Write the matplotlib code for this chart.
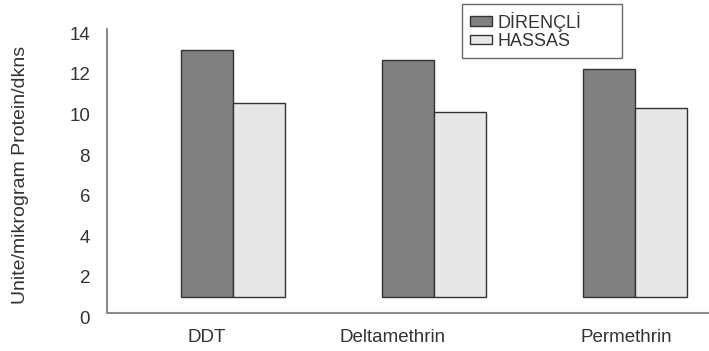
import matplotlib
matplotlib.use("Agg")
import matplotlib.pyplot as plt
import matplotlib.transforms as mtransforms
import numpy as np

plt.rcParams['font.family'] = ['Liberation Sans', 'DejaVu Sans']

categories = ["DDT", "Deltamethrin", "Permethrin"]
direncli = [13.0, 12.5, 12.06]
hassas = [10.36, 9.94, 10.1]
series_names = ["DİRENÇLİ", "HASSAS"]
yticks = [0, 2, 4, 6, 8, 10, 12, 14]
ylabel = "Unite/mikrogram Protein/dkns"

BAR_BASE = 0.82
BAR_W = 0.258
LABEL_SHIFT = [-0.128, -0.204, -0.046]

TEXT = "#333333"
fig = plt.figure(figsize=(7.09, 3.51), dpi=100)
ax = fig.add_axes([106.7/709, 1 - 313.3/351, 1 - 106.7/709, (313.3 - 29.3)/351])

x = np.arange(len(categories))
ax.bar(x - BAR_W, np.array(direncli) - BAR_BASE, width=BAR_W, bottom=BAR_BASE, align='edge',
       color="#808083", edgecolor="#333333", linewidth=1.0, label=series_names[0])
ax.bar(x, np.array(hassas) - BAR_BASE, width=BAR_W, bottom=BAR_BASE, align='edge',
       color="#e6e7e8", edgecolor="#333333", linewidth=1.0, label=series_names[1])

ax.set_xlim(-0.626, 2.366)
ax.set_ylim(0, 14)
ax.set_yticks(yticks)
ax.set_yticklabels([str(t) for t in yticks])
ax.set_xticks(x + np.array(LABEL_SHIFT))
ax.set_xticklabels(categories)
ax.tick_params(axis='y', length=0, pad=12, labelsize=13.5, labelcolor=TEXT)
ax.tick_params(axis='x', length=0, pad=11.5, labelsize=13.5, labelcolor=TEXT)
off = mtransforms.ScaledTranslation(0, -4/100, fig.dpi_scale_trans)
for lab in ax.get_yticklabels():
    lab.set_transform(lab.get_transform() + off)

for s in ['top', 'right']:
    ax.spines[s].set_visible(False)
for s in ['left', 'bottom']:
    ax.spines[s].set_color("#8c8c8c")
    ax.spines[s].set_linewidth(1.5)

fig.text(21/709, 1 - 175/351, ylabel, rotation=90, ha='center', va='center',
         fontsize=14, color=TEXT)

leg = fig.legend(loc='upper left', bbox_to_anchor=(462/709, (351 - 57)/351, 160/709, 53/351),
                 mode='expand', borderaxespad=0,
                 fancybox=False, frameon=True, fontsize=13, handlelength=1.22,
                 handleheight=0.44, handletextpad=0.3, borderpad=0.42, labelspacing=0.08)
leg.get_frame().set_edgecolor("#444444")
leg.get_frame().set_linewidth(1.0)
for t in leg.get_texts():
    t.set_color(TEXT)

fig.savefig("out.png", dpi=100)
